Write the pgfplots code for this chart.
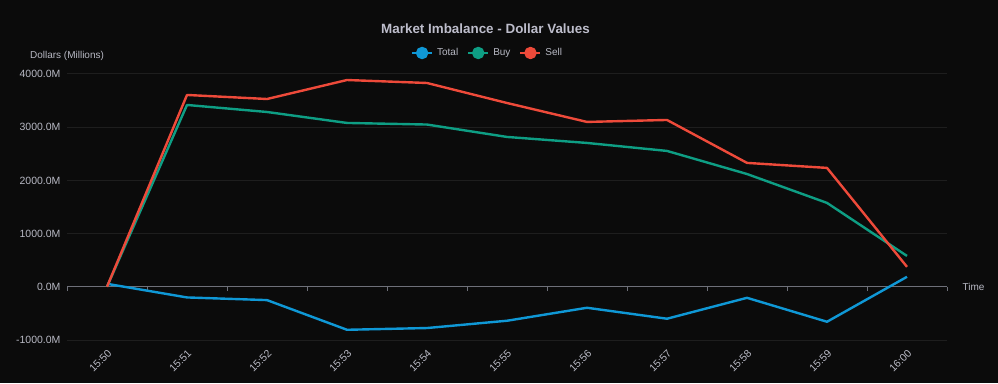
\documentclass[border=0pt]{standalone}
\usepackage{pgfplots}
\pgfplotsset{compat=1.18}
\usepackage{fontspec}
\setmainfont{Liberation Sans}
\definecolor{bg}{HTML}{0B0B0B}
\definecolor{gridc}{HTML}{1E1E1E}
\definecolor{axisc}{HTML}{6E7079}
\definecolor{txt}{HTML}{B8B9C4}
\definecolor{titlec}{HTML}{BDBDCB}
\definecolor{totalc}{HTML}{0F98D6}
\definecolor{buyc}{HTML}{0E9E84}
\definecolor{sellc}{HTML}{EE4A3A}
\begin{document}
\begin{tikzpicture}[x=1pt,y=1pt]
\fill[bg] (0,0) rectangle (998,383);
\node[font=\fontsize{13.4}{15}\selectfont\bfseries, text=titlec] at (485.5,354) {Market Imbalance - Dollar Values};
\node[font=\fontsize{10}{12}\selectfont, text=txt] at (67,327) {Dollars (Millions)};
\begin{axis}[
  at={(67pt,43pt)}, anchor=south west,
  scale only axis, width=880pt, height=266pt,
  xmin=-0.5, xmax=10.5, ymin=-1000, ymax=4000,
  axis line style={draw=none},
  xtick={0,...,10},
  xticklabels={15:50,15:51,15:52,15:53,15:54,15:55,15:56,15:57,15:58,15:59,16:00},
  ytick={-1000,0,1000,2000,3000,4000},
  yticklabels={-1000.0M,0.0M,1000.0M,2000.0M,3000.0M,4000.0M},
  major tick length=0pt,
  tick style={draw=none},
  ymajorgrids, grid style={gridc, line width=1pt},
  tick label style={font=\fontsize{10.5}{12}\selectfont, text=txt},
  xticklabel style={xshift=0pt, yshift=-4pt, rotate=45, anchor=north east},
  yticklabel style={xshift=-3pt},
  every axis plot/.append style={line width=2.4pt, line join=round, no marks},
  legend columns=3,
  legend style={draw=none, fill=none, text=txt, font=\fontsize{10}{12}\selectfont,
    at={(0.478,1.079)}, anchor=center,
    /tikz/every odd column/.append style={column sep=2pt},
    /tikz/every even column/.append style={column sep=7pt}},
  legend image code/.code={
    \draw[#1, line width=2pt] (0pt,0pt) -- (20pt,0pt);
    \fill[#1] (10pt,0pt) circle (5pt);
  },
  clip=false,
]
\draw[axisc, line width=1.2pt] (axis cs:-0.5,0) -- (axis cs:10.5,0);
\pgfplotsinvokeforeach{-0.5,0.5,1.5,2.5,3.5,4.5,5.5,6.5,7.5,8.5,9.5,10.5}{
  \draw[axisc, line width=1pt] (axis cs:#1,0) -- ++(0pt,-4pt);
}
\node[anchor=west, text=txt, font=\fontsize{10}{12}\selectfont] at (axis cs:10.5,0) [xshift=12pt] {Time};
\addplot[totalc] coordinates {(0,56) (1,-200) (2,-250) (3,-808) (4,-775) (5,-638) (6,-394) (7,-600) (8,-207) (9,-657) (10,188)};
\addlegendentry{Total}
\addplot[buyc] coordinates {(0,0) (1,3418) (2,3286) (3,3080) (4,3050) (5,2817) (6,2704) (7,2554) (8,2120) (9,1577) (10,580)};
\addlegendentry{Buy}
\addplot[sellc] coordinates {(0,0) (1,3606) (2,3530) (3,3887) (4,3831) (5,3455) (6,3099) (7,3136) (8,2329) (9,2235) (10,375)};
\addlegendentry{Sell}
\end{axis}
\pgfresetboundingbox
\path (0,0) rectangle (998,383);
\end{tikzpicture}
\end{document}
